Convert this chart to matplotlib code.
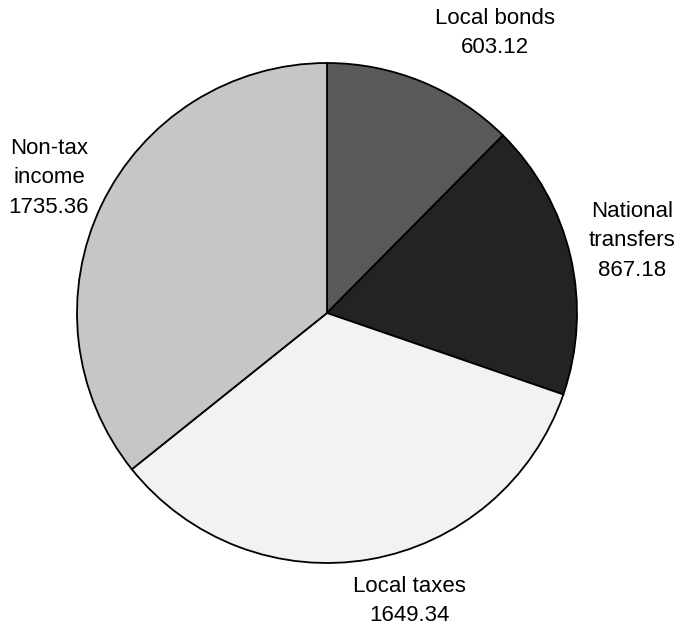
import matplotlib
matplotlib.use("Agg")
import matplotlib.pyplot as plt

plt.rcParams['font.family'] = ['Liberation Sans', 'DejaVu Sans']

# revenue sources, clockwise from the top
sources = ["Local bonds", "National\ntransfers", "Local taxes", "Non-tax\nincome"]
amounts = [603.12, 867.18, 1649.34, 1735.36]
shades = ["#595959", "#232323", "#f2f2f2", "#c6c6c6"]

# where each caption sits (pie radius = 1)
label_pos = [(0.672, 1.12), (1.22, 0.288), (0.328, -1.152), (-1.112, 0.54)]

fig = plt.figure(figsize=(6.79, 6.27), dpi=100)
ax = fig.add_axes([0, 0, 1, 1])

ax.pie(amounts, colors=shades, startangle=90, counterclock=False,
       radius=1.0, center=(0, 0),
       wedgeprops=dict(edgecolor="black", linewidth=1.3))

for name, val, (x, y) in zip(sources, amounts, label_pos):
    ax.text(x, y, f"{name}\n{val:.2f}", ha="center", va="center",
            fontsize=16, color="black", linespacing=1.55)

ax.set_xlim(-1.308, 1.408)
ax.set_ylim(-1.256, 1.252)
ax.set_aspect("equal")
ax.axis("off")

fig.savefig("out.png", dpi=100, facecolor="white")
